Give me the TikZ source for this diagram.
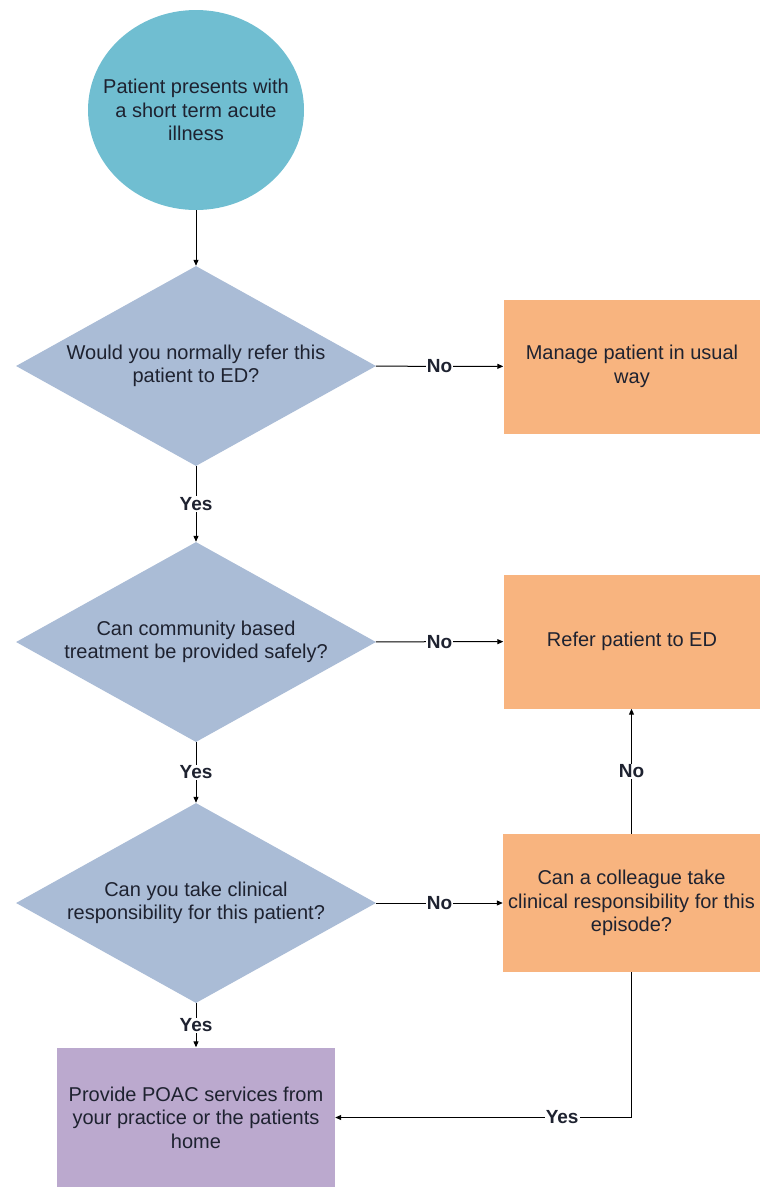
\documentclass[tikz,border=0pt]{standalone}
\usepackage{fontspec}
\setmainfont{Liberation Sans}
\usetikzlibrary{shapes.geometric,arrows.meta}
\definecolor{startc}{HTML}{70BED1}
\definecolor{decc}{HTML}{AABCD6}
\definecolor{orangec}{HTML}{F8B47F}
\definecolor{purplec}{HTML}{BBA9CE}
\definecolor{txtc}{HTML}{1E2230}
\tikzset{
  base/.style={text=txtc, align=center, inner sep=0pt},
  startnode/.style={base, ellipse, fill=startc, minimum width=216pt, minimum height=200pt},
  decnode/.style={base, diamond, fill=decc, minimum width=360pt, minimum height=200pt},
  boxnode/.style={base, rectangle, fill=orangec, minimum width=257pt, minimum height=134pt},
  endnode/.style={base, rectangle, fill=purplec, minimum width=278pt, minimum height=140pt},
  conn/.style={line width=1pt, draw=black, -{Triangle[length=6pt,width=5pt]}},
  lab/.style={fill=white, inner sep=1pt, text=txtc, font=\fontsize{19}{23}\selectfont\bfseries}
}
\begin{document}
\begin{tikzpicture}[x=1pt,y=-1pt,font=\fontsize{20}{23.5}\selectfont]
\useasboundingbox (0,0) rectangle (760,1187);
\node[startnode] (s) at (196,110) {};
\node[base] at (s) {Patient presents with\\a short term acute\\illness};
\node[decnode] (d1) at (196,366) {};
\node[base] at (d1) {Would you normally refer this\\patient to ED?};
\node[decnode] (d2) at (196,642) {};
\node[base] at (d2) {Can community based\\treatment be provided safely?};
\node[decnode] (d3) at (196,903) {};
\node[base] at (d3) {Can you take clinical\\responsibility for this patient?};
\node[boxnode] (b1) at (632,366.5) {Manage patient in usual\\way};
\node[boxnode] (b2) at (632,641.5) {Refer patient to ED};
\node[boxnode, minimum height=138pt] (b3) at (631.5,903) {Can a colleague take\\clinical responsibility for this\\episode?};
\node[endnode] (b4) at (196,1117.5) {Provide POAC services from\\your practice or the patients\\home};
\draw[conn] (s) -- (d1);
\draw[conn] (d1) -- node[lab] {No} (b1);
\draw[conn] (d1) -- node[lab] {Yes} (d2);
\draw[conn] (d2) -- node[lab] {No} (b2);
\draw[conn] (d2) -- node[lab] {Yes} (d3);
\draw[conn] (d3) -- node[lab] {No} (b3);
\draw[conn] (d3) -- node[lab] {Yes} (b4);
\draw[conn] (b3.north) -- node[lab] {No} (b3.north |- b2.south);
\draw[conn] (b3.south) |- node[lab, pos=0.617] {Yes} (b4.east);
\end{tikzpicture}
\end{document}
